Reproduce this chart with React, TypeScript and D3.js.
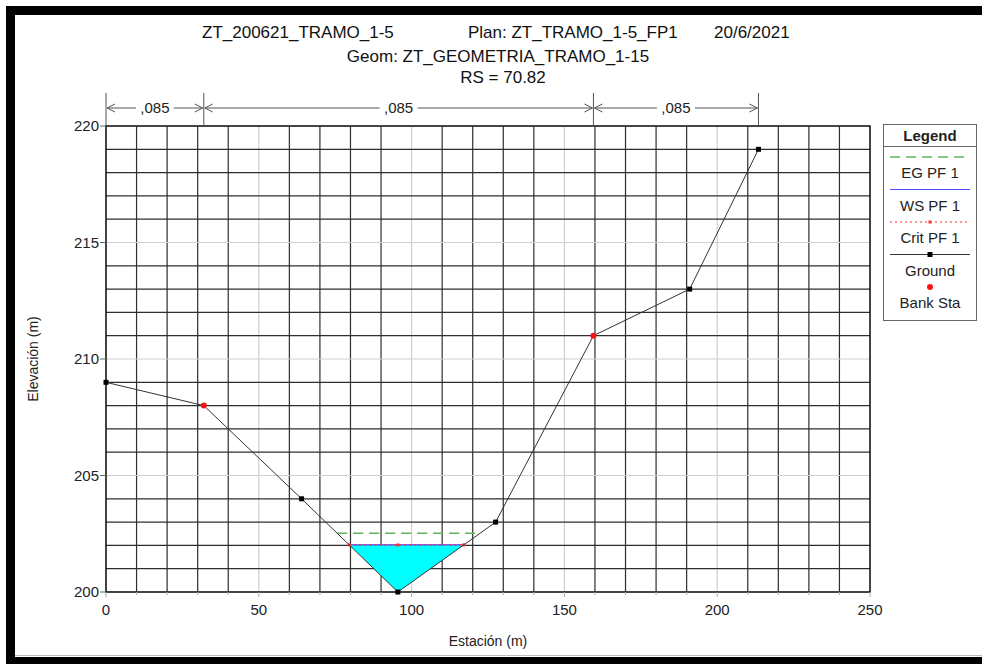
import { useEffect, useRef } from "react";
import * as d3 from "d3";

// ground profile
const stations = [0, 32, 64, 95.5, 127.5, 159.5, 191, 213.5];
const elevations = [209, 208, 204, 200, 203, 211, 213, 219];
const bankStations = [32, 159.5];
// manning n ranges
const nBreaks = [0, 32, 159.5, 213.5];
const nValues = [",085", ",085", ",085"];
// profile results
const wsElev = 202.02;
const egElev = 202.52;
const critElev = 202.02;
const xTicks = [0, 50, 100, 150, 200, 250];
const yTicks = [200, 205, 210, 215, 220];
const legendItems = ["EG PF 1", "WS PF 1", "Crit PF 1", "Ground", "Bank Sta"];

const W = 982;
const H = 664;
const FONT = "'Liberation Sans', Arial, sans-serif";

function groundAt(s: number) {
  for (let i = 0; i < stations.length - 1; i++) {
    if (s >= stations[i] && s <= stations[i + 1]) {
      const t = (s - stations[i]) / (stations[i + 1] - stations[i]);
      return elevations[i] + t * (elevations[i + 1] - elevations[i]);
    }
  }
  return elevations[elevations.length - 1];
}

// left / right crossing of the ground with a level, around the thalweg
function crossings(level: number) {
  const low = d3.minIndex(elevations);
  let left = stations[0];
  let right = stations[stations.length - 1];
  for (let i = low; i > 0; i--) {
    if (elevations[i - 1] >= level) {
      const t = (level - elevations[i]) / (elevations[i - 1] - elevations[i]);
      left = stations[i] + t * (stations[i - 1] - stations[i]);
      break;
    }
  }
  for (let i = low; i < stations.length - 1; i++) {
    if (elevations[i + 1] >= level) {
      const t = (level - elevations[i]) / (elevations[i + 1] - elevations[i]);
      right = stations[i] + t * (stations[i + 1] - stations[i]);
      break;
    }
  }
  return [left, right];
}

export default function App() {
  const ref = useRef<SVGSVGElement>(null);

  useEffect(() => {
    const svg = d3.select(ref.current);
    svg.selectAll("*").remove();

    const x = d3.scaleLinear().domain([0, 250]).range([106, 870]);
    const y = d3.scaleLinear().domain([200, 220]).range([592, 126]);

    svg.append("rect").attr("width", W).attr("height", H).attr("fill", "#fff");

    // frame
    svg.append("rect").attr("x", 6).attr("y", 6).attr("width", W - 6).attr("height", 9).attr("fill", "#000");
    svg.append("rect").attr("x", 6).attr("y", 6).attr("width", 9).attr("height", H - 6).attr("fill", "#000");
    svg.append("rect").attr("x", 6).attr("y", 657).attr("width", W - 6).attr("height", 7).attr("fill", "#000");
    svg.append("line").attr("x1", 15).attr("x2", W).attr("y1", 655.5).attr("y2", 655.5).attr("stroke", "#bbb");

    // titles
    const title = svg.append("g").attr("font-family", FONT).attr("font-size", 17).attr("fill", "#111");
    title.append("text").attr("x", 202).attr("y", 38).text("ZT_200621_TRAMO_1-5");
    title.append("text").attr("x", 468).attr("y", 38).text("Plan: ZT_TRAMO_1-5_FP1");
    title.append("text").attr("x", 714).attr("y", 38).text("20/6/2021");
    title.append("text").attr("x", 498).attr("y", 62).attr("text-anchor", "middle").text("Geom: ZT_GEOMETRIA_TRAMO_1-15");
    title.append("text").attr("x", 503).attr("y", 83).attr("text-anchor", "middle").text("RS = 70.82");

    // grid
    const grid = svg.append("g");
    d3.range(0, 251, 10).forEach((v) => {
      grid.append("line")
        .attr("x1", x(v)).attr("x2", x(v)).attr("y1", y(200)).attr("y2", y(220))
        .attr("stroke", v % 50 === 0 ? "#cfcfcf" : "#2e2e2e").attr("stroke-width", 1.2);
    });
    d3.range(200, 220.5, 1).forEach((v) => {
      grid.append("line")
        .attr("x1", x(0)).attr("x2", x(250)).attr("y1", y(v)).attr("y2", y(v))
        .attr("stroke", v % 5 === 0 ? "#cfcfcf" : "#2e2e2e").attr("stroke-width", 1.2);
    });

    // water fill
    const [wl, wr] = crossings(wsElev);
    const waterPts: [number, number][] = [[wl, wsElev]];
    stations.forEach((s, i) => { if (s > wl && s < wr) waterPts.push([s, elevations[i]]); });
    waterPts.push([wr, wsElev]);
    svg.append("path")
      .attr("d", d3.line<[number, number]>().x((d) => x(d[0])).y((d) => y(d[1]))(waterPts) + "Z")
      .attr("fill", "#00ffff");

    // plot border
    svg.append("rect").attr("x", x(0)).attr("y", y(220)).attr("width", x(250) - x(0)).attr("height", y(200) - y(220))
      .attr("fill", "none").attr("stroke", "#111").attr("stroke-width", 1.5);

    // axes
    const ax = svg.append("g").attr("font-family", FONT).attr("font-size", 15).attr("fill", "#222");
    d3.range(0, 251, 10).forEach((v) => {
      ax.append("line").attr("x1", x(v)).attr("x2", x(v)).attr("y1", y(200)).attr("y2", y(200) + (v % 50 === 0 ? 5 : 3))
        .attr("stroke", "#aaa");
    });
    xTicks.forEach((v) => {
      ax.append("text").attr("x", x(v)).attr("y", 615).attr("text-anchor", "middle").text(v);
    });
    yTicks.forEach((v) => {
      ax.append("line").attr("x1", x(0) - 6).attr("x2", x(0)).attr("y1", y(v)).attr("y2", y(v)).attr("stroke", "#666");
      ax.append("text").attr("x", x(0) - 7).attr("y", y(v) + 5).attr("text-anchor", "end").text(v);
    });
    ax.append("text").attr("x", x(125)).attr("y", 646).attr("font-size", 14).attr("text-anchor", "middle").text("Estación (m)");
    ax.append("text").attr("transform", `translate(38,${y(210)}) rotate(-90)`).attr("font-size", 14).attr("text-anchor", "middle").text("Elevación (m)");

    // manning n annotation
    const nG = svg.append("g").attr("font-family", FONT).attr("font-size", 15).attr("fill", "#222");
    nBreaks.forEach((s) => {
      nG.append("line").attr("x1", x(s)).attr("x2", x(s)).attr("y1", 93).attr("y2", y(220)).attr("stroke", "#555");
    });
    const arrowY = 108;
    nValues.forEach((label, i) => {
      const a = x(nBreaks[i]);
      const b = x(nBreaks[i + 1]);
      const mid = (a + b) / 2;
      const half = 19;
      nG.append("line").attr("x1", a + 1).attr("x2", mid - half).attr("y1", arrowY).attr("y2", arrowY).attr("stroke", "#555");
      nG.append("line").attr("x1", mid + half).attr("x2", b - 1).attr("y1", arrowY).attr("y2", arrowY).attr("stroke", "#555");
      nG.append("path").attr("d", `M${a + 9},${arrowY - 4}L${a + 1},${arrowY}L${a + 9},${arrowY + 4}`).attr("fill", "none").attr("stroke", "#555");
      nG.append("path").attr("d", `M${b - 9},${arrowY - 4}L${b - 1},${arrowY}L${b - 9},${arrowY + 4}`).attr("fill", "none").attr("stroke", "#555");
      nG.append("text").attr("x", mid).attr("y", arrowY + 5).attr("text-anchor", "middle").text(label);
    });

    // EG
    const [el, er] = crossings(egElev);
    svg.append("line").attr("x1", x(el)).attr("x2", x(er)).attr("y1", y(egElev)).attr("y2", y(egElev))
      .attr("stroke", "#5cb85c").attr("stroke-width", 1.6).attr("stroke-dasharray", "10,6");
    // WS
    svg.append("line").attr("x1", x(wl)).attr("x2", x(wr)).attr("y1", y(wsElev)).attr("y2", y(wsElev))
      .attr("stroke", "#4f4fff").attr("stroke-width", 1.2);
    // Crit
    const [cl, cr] = crossings(critElev);
    svg.append("line").attr("x1", x(cl)).attr("x2", x(cr)).attr("y1", y(critElev)).attr("y2", y(critElev))
      .attr("stroke", "#ff3030").attr("stroke-width", 1.2).attr("stroke-dasharray", "2,3");
    [cl, stations[d3.minIndex(elevations)], cr].forEach((s) => {
      svg.append("rect").attr("x", x(s) - 1.5).attr("y", y(critElev) - 1.5).attr("width", 3).attr("height", 3).attr("fill", "#ff3030");
    });

    // ground
    svg.append("path")
      .attr("d", d3.line<number>().x((d) => x(d)).y((d, i) => y(elevations[i]))(stations))
      .attr("fill", "none").attr("stroke", "#333").attr("stroke-width", 1);
    stations.forEach((s, i) => {
      if (bankStations.includes(s)) return;
      svg.append("rect").attr("x", x(s) - 2.5).attr("y", y(elevations[i]) - 2.5).attr("width", 5).attr("height", 5).attr("fill", "#000");
    });
    bankStations.forEach((s) => {
      svg.append("circle").attr("cx", x(s)).attr("cy", y(groundAt(s))).attr("r", 3).attr("fill", "#ff1010");
    });

    // legend
    const lg = svg.append("g").attr("font-family", FONT).attr("font-size", 15).attr("fill", "#222");
    lg.append("rect").attr("x", 883.5).attr("y", 124.5).attr("width", 93).attr("height", 196)
      .attr("fill", "#fff").attr("stroke", "#666");
    lg.append("line").attr("x1", 883.5).attr("x2", 976.5).attr("y1", 146.5).attr("y2", 146.5).attr("stroke", "#666");
    lg.append("text").attr("x", 930).attr("y", 141).attr("text-anchor", "middle").attr("font-weight", "bold").text("Legend");
    const rowY = (i: number) => 157 + i * 32.5;
    legendItems.forEach((label, i) => {
      lg.append("text").attr("x", 930).attr("y", rowY(i) + 21).attr("text-anchor", "middle").text(label);
    });
    lg.append("line").attr("x1", 890).attr("x2", 970).attr("y1", rowY(0)).attr("y2", rowY(0))
      .attr("stroke", "#5cb85c").attr("stroke-width", 1.6).attr("stroke-dasharray", "10,6");
    lg.append("line").attr("x1", 890).attr("x2", 970).attr("y1", rowY(1)).attr("y2", rowY(1))
      .attr("stroke", "#4f4fff").attr("stroke-width", 1.2);
    lg.append("line").attr("x1", 890).attr("x2", 970).attr("y1", rowY(2)).attr("y2", rowY(2))
      .attr("stroke", "#ff3030").attr("stroke-width", 1.2).attr("stroke-dasharray", "2,3");
    lg.append("rect").attr("x", 928.5).attr("y", rowY(2) - 1.5).attr("width", 3).attr("height", 3).attr("fill", "#ff3030");
    lg.append("line").attr("x1", 890).attr("x2", 970).attr("y1", rowY(3)).attr("y2", rowY(3))
      .attr("stroke", "#333").attr("stroke-width", 1);
    lg.append("rect").attr("x", 927.5).attr("y", rowY(3) - 2.5).attr("width", 5).attr("height", 5).attr("fill", "#000");
    lg.append("circle").attr("cx", 930).attr("cy", rowY(4)).attr("r", 3).attr("fill", "#ff1010");
  }, []);

  return (
    <svg ref={ref} width={W} height={H} style={{ position: "absolute", left: 0, top: 0 }}></svg>
  );
}
